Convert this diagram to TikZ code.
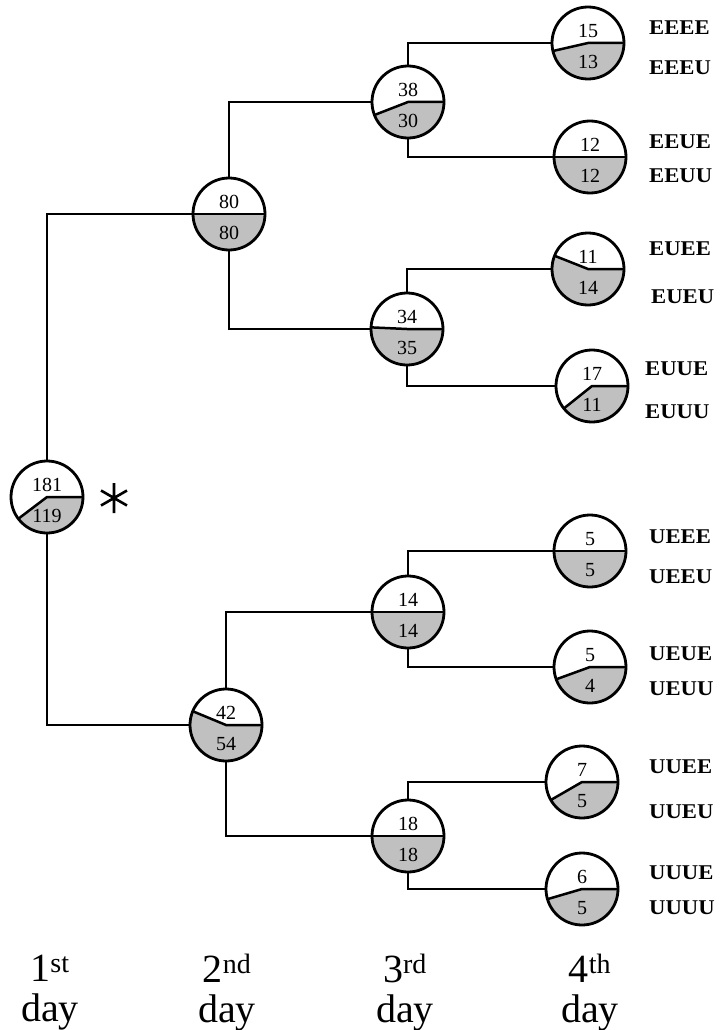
\documentclass[tikz,border=0pt]{standalone}
\usepackage{fontspec}
\setmainfont{Liberation Serif}
\usetikzlibrary{calc}
\definecolor{piegray}{RGB}{192,192,192}
\tikzset{
  pie/.style={circle,draw=black,line width=2.8pt,minimum size=72pt,inner sep=0pt},
  pieline/.style={line width=2.5pt},
  num/.style={inner sep=0pt,font=\fontsize{20}{20}\selectfont},
  conn/.style={line width=2.4pt},
  lab/.style={inner sep=0pt,anchor=west,font=\bfseries\fontsize{21}{21}\selectfont},
  daylab/.style={inner sep=0pt,align=center,font=\fontsize{40}{40}\selectfont}
}
\newcommand\pienode[5]{%
  \pgfmathsetmacro\pieang{#5/(#4+#5)*360}%
  \coordinate (#1c) at (#2,-#3);
  \fill[piegray] (#1c) -- ++(0:36pt) arc[start angle=0,end angle=-\pieang,radius=36pt] -- cycle;
  \draw[pieline] ($(#1c)+(0:36pt)$) -- (#1c) -- ($(#1c)+(-\pieang:36pt)$);
  \node[pie] (#1) at (#2,-#3) {};
  \node[num] (#1up) at ([yshift=12pt]#1c) {#4};
  \node[num] (#1dn) at ([yshift=-19pt]#1c) {#5};
}
\newcommand\leaflab[2]{\scalebox{1.08}[1]{#2}}
\begin{document}
\begin{tikzpicture}[x=1pt,y=1pt]
\useasboundingbox (0,0) rectangle (722,-1030);
% nodes
\pienode{root}{47}{497}{181}{119}
\pienode{da}{229}{214}{80}{80}
\pienode{db}{226}{725}{42}{54}
\pienode{ta}{408}{102}{38}{30}
\pienode{tb}{407}{329}{34}{35}
\pienode{tc}{408}{612}{14}{14}
\pienode{td}{408}{836}{18}{18}
\pienode{la}{588}{43}{15}{13}
\pienode{lb}{590}{157}{12}{12}
\pienode{lc}{588}{269}{11}{14}
\pienode{ld}{592}{386}{17}{11}
\pienode{le}{590}{551}{5}{5}
\pienode{lf}{590}{667}{5}{4}
\pienode{lg}{582}{782}{7}{5}
\pienode{lh}{582}{889}{6}{5}
% connectors
\draw[conn] (root.north) |- (da.west);
\draw[conn] (root.south) |- (db.west);
\draw[conn] (da.north) |- (ta.west);
\draw[conn] (da.south) |- (tb.west);
\draw[conn] (db.north) |- (tc.west);
\draw[conn] (db.south) |- (td.west);
\draw[conn] (ta.north) |- (la.west);
\draw[conn] (ta.south) |- (lb.west);
\draw[conn] (tb.north) |- (lc.west);
\draw[conn] (tb.south) |- (ld.west);
\draw[conn] (tc.north) |- (le.west);
\draw[conn] (tc.south) |- (lf.west);
\draw[conn] (td.north) |- (lg.west);
\draw[conn] (td.south) |- (lh.west);
% asterisk
\coordinate (ast) at (114,-498);
\draw[line width=2.6pt] ($(ast)+(90:15)$) -- ($(ast)+(270:15)$)
  ($(ast)+(30:15)$) -- ($(ast)+(210:15)$)
  ($(ast)+(150:15)$) -- ($(ast)+(330:15)$);
% leaf labels
\node[lab] (a1) at (649,-28) {\leaflab{}{EEEE}};
\node[lab] (a2) at (649,-68) {\leaflab{}{EEEU}};
\node[lab] (b1) at (649,-142) {\leaflab{}{EEUE}};
\node[lab] (b2) at (649,-176) {\leaflab{}{EEUU}};
\node[lab] (c1) at (649,-249) {\leaflab{}{EUEE}};
\node[lab] (c2) at (651,-297) {\leaflab{}{EUEU}};
\node[lab] (d1) at (645,-369) {\leaflab{}{EUUE}};
\node[lab] (d2) at (645,-412) {\leaflab{}{EUUU}};
\node[lab] (e1) at (649,-537) {\leaflab{}{UEEE}};
\node[lab] (e2) at (649,-577) {\leaflab{}{UEEU}};
\node[lab] (f1) at (649,-654) {\leaflab{}{UEUE}};
\node[lab] (f2) at (649,-689) {\leaflab{}{UEUU}};
\node[lab] (g1) at (649,-767) {\leaflab{}{UUEE}};
\node[lab] (g2) at (649,-812) {\leaflab{}{UUEU}};
\node[lab] (h1) at (649,-873) {\leaflab{}{UUUE}};
\node[lab] (h2) at (649,-908) {\leaflab{}{UUUU}};
% day labels
\node[daylab] (day1) at (50,-993) {1\textsuperscript{st}\\day};
\node[daylab] (day2) at (227,-993) {2\textsuperscript{nd}\\day};
\node[daylab] (day3) at (405,-993) {3\textsuperscript{rd}\\day};
\node[daylab] (day4) at (590,-993) {4\textsuperscript{th}\\day};
\end{tikzpicture}
\end{document}
